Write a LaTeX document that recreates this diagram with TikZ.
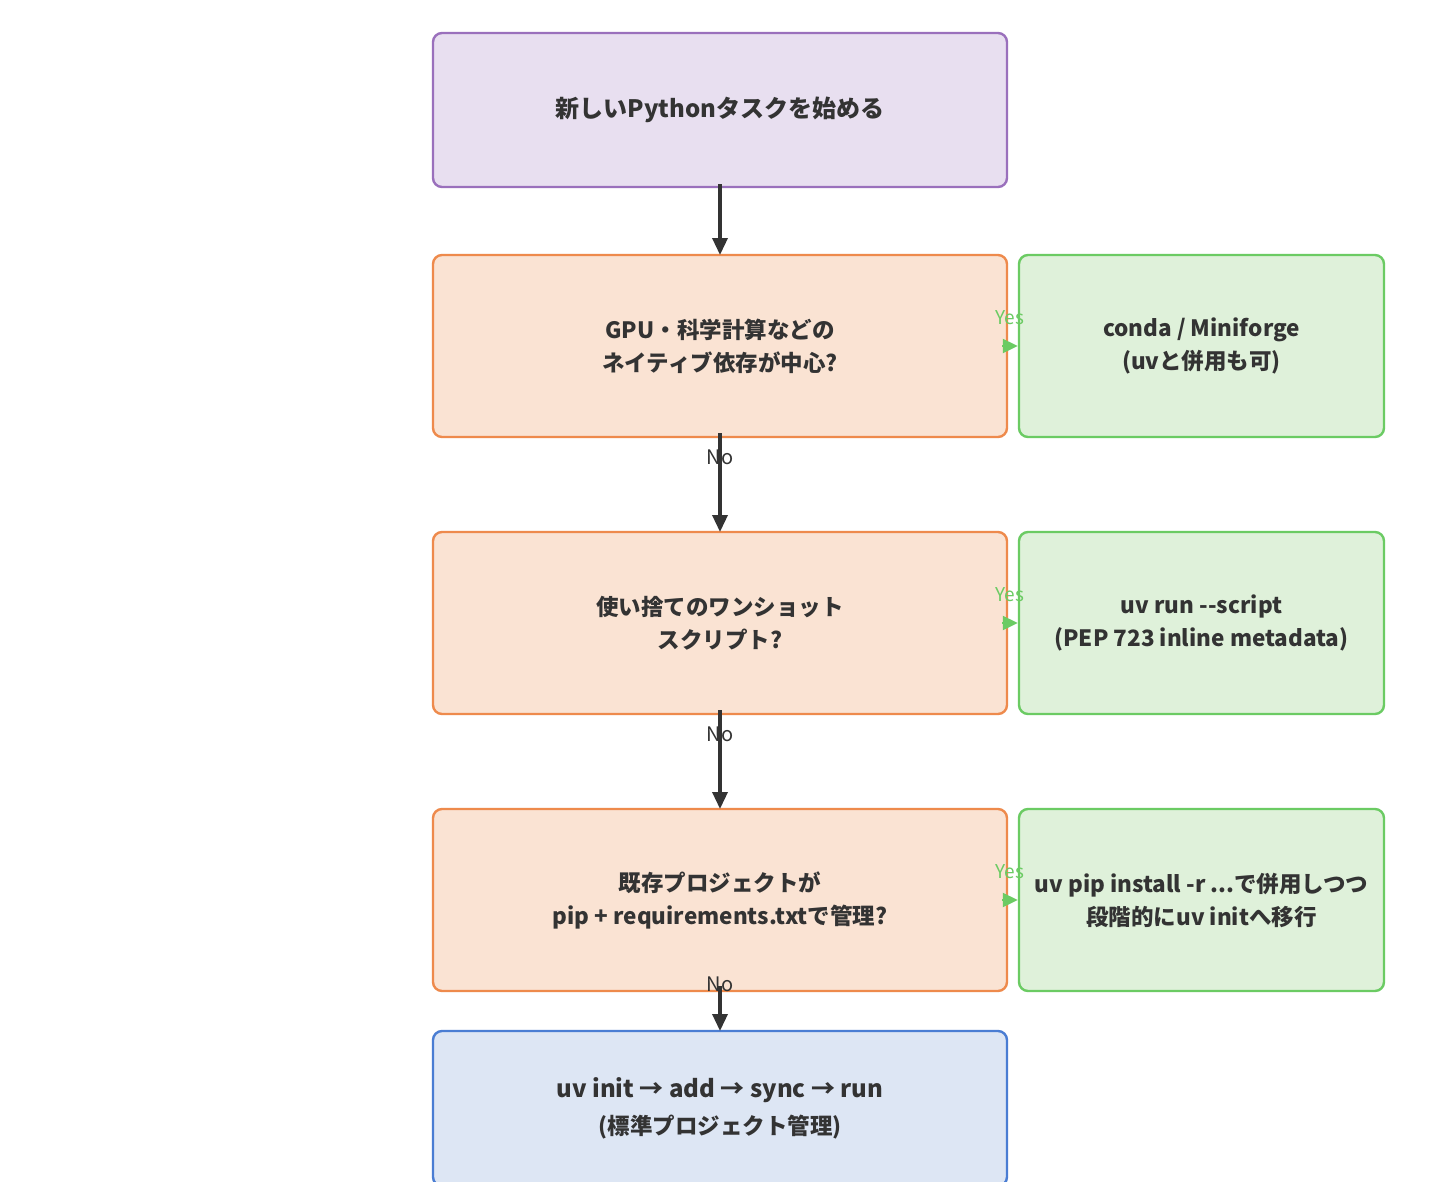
\documentclass[tikz,border=0pt]{standalone}
\usepackage{fontspec}
\setmainfont{Noto Sans CJK JP}
\usetikzlibrary{arrows.meta}
\definecolor{ink}{HTML}{333333}
\definecolor{startline}{HTML}{9A70BC}
\definecolor{startfill}{HTML}{E8DFF0}
\definecolor{qline}{HTML}{EE8A4C}
\definecolor{qfill}{HTML}{FAE3D3}
\definecolor{aline}{HTML}{6BCB63}
\definecolor{afill}{HTML}{DFF1DA}
\definecolor{endline}{HTML}{4A7DD3}
\definecolor{endfill}{HTML}{DDE6F4}
\begin{document}
\begin{tikzpicture}[x=1pt,y=-1pt,
  box/.style={rounded corners=9pt,line width=2.4pt,align=center,text=ink,inner sep=0pt,
    font=\fontsize{22.5}{33}\selectfont\bfseries,minimum height=182pt},
  qbox/.style={box,draw=qline,fill=qfill,minimum width=574pt},
  abox/.style={box,draw=aline,fill=afill,minimum width=365pt},
  arr/.style={-{Triangle[length=17pt,width=15pt]},line width=3.4pt,ink,shorten >=-1.2pt},
  yesarr/.style={-{Triangle[length=15pt,width=14pt]},line width=2pt,aline},
  nolab/.style={font=\fontsize{20}{20}\selectfont,text=ink,inner sep=0pt},
  yeslab/.style={font=\fontsize{19}{19}\selectfont,text=aline,inner sep=0pt}]
  \useasboundingbox[fill=white] (0,0) rectangle (1440,1200);
  \clip (0,0) rectangle (1440,1181);
  \node[box,draw=startline,fill=startfill,minimum width=574pt,minimum height=154pt,
    font=\fontsize{24}{34}\selectfont\bfseries] (start) at (720,110) {新しいPythonタスクを始める};
  \node[qbox] (gpu) at (720,346) {GPU・科学計算などの\\ネイティブ依存が中心?};
  \node[abox] (conda) at (1201.5,346) {conda / Miniforge\\(uvと併用も可)};
  \node[qbox] (oneshot) at (720,623) {使い捨てのワンショット\\スクリプト?};
  \node[abox] (script) at (1201.5,623) {uv run -{}-script\\(PEP 723 inline metadata)};
  \node[qbox] (legacy) at (720,900) {既存プロジェクトが\\pip + requirements.txtで管理?};
  \node[abox] (pipr) at (1201.5,900) {uv pip install -r ...で併用しつつ\\段階的にuv initへ移行};
  \node[box,draw=endline,fill=endfill,minimum width=574pt,minimum height=155pt,
    font=\fontsize{24}{37}\selectfont\bfseries] (uvinit) at (720,1108.5)
    {uv init → add → sync → run\\{\fontsize{22.5}{33}\selectfont(標準プロジェクト管理)}};
  \draw[arr] ([yshift=4pt]start.south) -- (gpu.north);
  \draw[arr] ([yshift=5pt]gpu.south) -- (oneshot.north) node[nolab,pos=0.25] {No};
  \draw[arr] ([yshift=5pt]oneshot.south) -- (legacy.north) node[nolab,pos=0.25] {No};
  \draw[arr] ([yshift=6pt]legacy.south) -- (uvinit.north) node[nolab,pos=-0.05] {No};
  \draw[yesarr] ([xshift=-6pt]gpu.east) -- (conda.west) node[yeslab,midway,yshift=28pt] {Yes};
  \draw[yesarr] ([xshift=-6pt]oneshot.east) -- (script.west) node[yeslab,midway,yshift=28pt] {Yes};
  \draw[yesarr] ([xshift=-6pt]legacy.east) -- (pipr.west) node[yeslab,midway,yshift=28pt] {Yes};
\end{tikzpicture}
\end{document}
